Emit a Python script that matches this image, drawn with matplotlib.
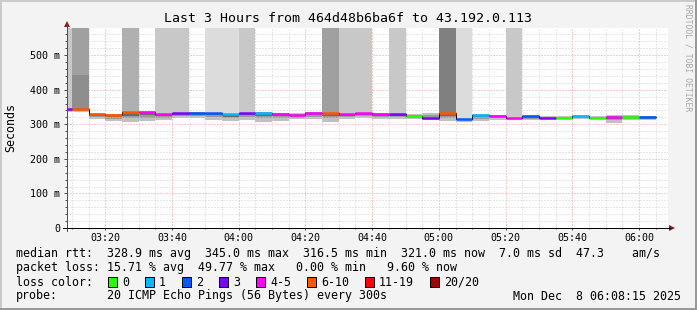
"""SmokePing style latency graph: last 3 hours, 5 minute bins."""

import matplotlib
matplotlib.use("Agg")
import matplotlib.pyplot as plt
from matplotlib.lines import Line2D
from matplotlib.patches import Polygon, Rectangle

W, H, DPI = 697, 310, 72
MONO = "DejaVu Sans Mono"

# 5 minute bins (start time); the first one is clipped by the left edge.
bin_times = [
    "03:05", "03:10", "03:15", "03:20", "03:25", "03:30", "03:35", "03:40",
    "03:45", "03:50", "03:55", "04:00", "04:05", "04:10", "04:15", "04:20",
    "04:25", "04:30", "04:35", "04:40", "04:45", "04:50", "04:55", "05:00",
    "05:05", "05:10", "05:15", "05:20", "05:25", "05:30", "05:35", "05:40",
    "05:45", "05:50", "05:55", "06:00",
]
median_ms = [
    345, 345, 329, 327, 335, 335, 330, 333,
    333, 333, 329, 333, 333, 330, 328, 334,
    334, 330, 334, 331, 331, 325, 319, 334,
    316.5, 326, 324, 319, 323, 319, 319, 323,
    319, 322, 322, 321,
]
smoke_lo_ms = [
    335, 335, 314, 309, 307, 309, 312, 318,
    317, 312, 309, 312, 307, 310, 314, 314,
    307, 314, 317, 314, 314, 316, 312, 309,
    308, 309, 312, 312, 312, 314, 314, 314,
    314, 305, 312, 312,
]
smoke_hi_ms = [
    348, 348, 332, 331, 338, 338, 334, 336,
    336, 336, 333, 336, 336, 334, 332, 337,
    337, 334, 337, 334, 335, 329, 334, 338,
    321, 330, 328, 323, 327, 324, 323, 327,
    324, 327, 326, 325,
]
loss_class = [
    "3", "6-10", "6-10", "6-10", "6-10", "4-5", "4-5", "3",
    "2", "2", "1", "3", "1", "4-5", "4-5", "4-5",
    "6-10", "4-5", "4-5", "4-5", "3", "0", "3", "6-10",
    "2", "1", "4-5", "4-5", "2", "3", "0", "1",
    "0", "4-5", "0", "2",
]
# shade of the smoke from pings beyond the top of the graph
lost_shade = [
    "#c8c8c8", "#a0a0a0", None, None, "#b0b0b0", None, "#c8c8c8", "#c8c8c8",
    None, "#dcdcdc", "#dcdcdc", "#c8c8c8", None, None, None, None,
    "#a0a0a0", "#c8c8c8", "#c8c8c8", None, "#c8c8c8", None, None, "#808080",
    "#dcdcdc", None, None, "#c8c8c8", None, None, None, None,
    None, None, None, None,
]
deep_smoke_top = {"03:10": 442}

loss_labels = ["0", "1", "2", "3", "4-5", "6-10", "11-19", "20/20"]
loss_colors = ["#26ff00", "#00b8ff", "#0059ff", "#7e00ff",
               "#ff00ff", "#ff5500", "#ff0000", "#a10000"]
x_tick_labels = ["03:20", "03:40", "04:00", "04:20", "04:40",
                 "05:00", "05:20", "05:40", "06:00"]
y_ticks = [0, 100, 200, 300, 400, 500]

BIN = 5
X_MIN, X_MAX = 8.5, 188.7
Y_MAX = 580


def minutes(hhmm: str) -> int:
    h, m = map(int, hhmm.split(":"))
    return (h - 3) * 60 + m


def fx(x: float) -> float:
    return x / W


def fy(y: float) -> float:
    return 1 - y / H


color_of = dict(zip(loss_labels, loss_colors))
starts = [minutes(t) for t in bin_times]

fig = plt.figure(figsize=(W / DPI, H / DPI), dpi=DPI, facecolor="#f3f3f3")
ax = fig.add_axes([fx(67), fy(228), (668 - 67) / W, (228 - 27.5) / H])
ax.set_facecolor("white")
ax.set_xlim(X_MIN, X_MAX)
ax.set_ylim(0, Y_MAX)

# Smoke around the median.
for s, med, lo, hi in zip(starts, median_ms, smoke_lo_ms, smoke_hi_ms):
    ax.add_patch(Rectangle((s, lo), BIN, hi - lo, color="#c0c0c0", lw=0, zorder=2))
    ax.add_patch(Rectangle((s, lo + 0.4 * (med - lo)), BIN,
                           0.6 * (med - lo) + 0.5 * (hi - med),
                           color="#999999", lw=0, zorder=2))
    ax.add_patch(Rectangle((s, med - 0.35 * (med - lo)), BIN, 0.35 * (med - lo),
                           color="#6a6a6a", lw=0, zorder=2))

# Lost pings push the smoke off the top of the graph.
for t, s, med, shade in zip(bin_times, starts, median_ms, lost_shade):
    if shade is None:
        continue
    ax.add_patch(Rectangle((s, med), BIN, Y_MAX - med, color=shade, lw=0, zorder=3))
    if t in deep_smoke_top:
        ax.add_patch(Rectangle((s, med), BIN, deep_smoke_top[t] - med,
                               color="#8e8e8e", lw=0, zorder=3))

# Grid on top of the smoke, as rrdtool does.
ax.set_xticks([minutes(t) for t in x_tick_labels])
ax.set_xticklabels(x_tick_labels)
ax.set_xticks([v for v in range(10, 190, 5)], minor=True)
ax.set_yticks(y_ticks)
ax.set_yticklabels(["0" if v == 0 else f"{v} m" for v in y_ticks])
ax.set_yticks(list(range(0, Y_MAX, 20)), minor=True)
ax.set_axisbelow(False)
ax.grid(which="minor", color="#d0d0d0", linestyle=(0, (1, 2)), lw=1, zorder=4)
ax.grid(which="major", color="#f09a9a", linestyle=(0, (1, 2)), lw=1, zorder=4)
for sp in ax.spines.values():
    sp.set_visible(False)
ax.tick_params(which="both", direction="out", color="#505050", width=1,
               labelsize=10, labelfontfamily=MONO, labelcolor="black")
ax.tick_params(axis="x", which="major", length=2, pad=3)
ax.tick_params(axis="x", which="minor", length=1)
ax.tick_params(axis="y", which="major", length=3, pad=4)
ax.tick_params(axis="y", which="minor", length=2)

# Median line, coloured by packet loss.
edges = starts + [starts[-1] + BIN]
ax.step(edges, median_ms + [median_ms[-1]], where="post",
        color="black", lw=1, zorder=5)
for s, med, lc in zip(starts, median_ms, loss_class):
    ax.hlines(med, s, s + BIN, color=color_of[lc], lw=2.5, zorder=6)

# Axes lines and arrows.
fig.add_artist(Line2D([fx(67), fx(67)], [fy(231), fy(24)], color="#505050", lw=1))
fig.add_artist(Line2D([fx(63), fx(671)], [fy(228), fy(228)], color="black", lw=1))
fig.add_artist(Polygon([(fx(64), fy(27)), (fx(70), fy(27)), (fx(67), fy(21))],
                       closed=True, color="#8b1a1a", lw=0))
fig.add_artist(Polygon([(fx(669), fy(225)), (fx(669), fy(231)), (fx(675), fy(228))],
                       closed=True, color="#8b1a1a", lw=0))

# Frame.
fig.add_artist(Rectangle((0, 0), 1, 2 / H, transform=fig.transFigure,
                         color="#999999", lw=0))
fig.add_artist(Rectangle((1 - 2 / W, 0), 2 / W, 1, transform=fig.transFigure,
                         color="#999999", lw=0))
fig.add_artist(Rectangle((0, 1 - 2 / H), 1 - 2 / W, 2 / H, transform=fig.transFigure,
                         color="#cbcbcb", lw=0))
fig.add_artist(Rectangle((0, 2 / H), 2 / W, 1 - 4 / H, transform=fig.transFigure,
                         color="#cbcbcb", lw=0))

# Texts.
fig.text(fx(348), fy(19), "Last 3 Hours from 464d48b6ba6f to 43.192.0.113",
         ha="center", va="center", family=MONO, size=13.2)
fig.text(fx(10.5), fy(127.5), "Seconds", rotation=90, ha="center", va="center",
         family=MONO, size=11.6)
fig.text(fx(688), fy(4), "RRDTOOL / TOBI OETIKER", rotation=270, ha="center",
         va="top", family=MONO, size=8, color="#a8a8a8")

LEG = dict(ha="left", va="center", family=MONO, size=11.6)
fig.text(fx(16), fy(254),
         "median rtt:  328.9 ms avg  345.0 ms max  316.5 ms min  "
         "321.0 ms now  7.0 ms sd  47.3    am/s", **LEG)
fig.text(fx(16), fy(268),
         "packet loss: 15.71 % avg  49.77 % max   0.00 % min   9.60 % now", **LEG)
fig.text(fx(16), fy(282), "loss color:", **LEG)
x = 108
for lab, col in zip(loss_labels, loss_colors):
    fig.add_artist(Rectangle((fx(x), fy(287)), 9 / W, 10 / H,
                             transform=fig.transFigure, facecolor=col,
                             edgecolor="black", lw=1))
    fig.text(fx(x + 14), fy(282), lab, **LEG)
    x += 14 + 7 * len(lab) + 16
fig.text(fx(16), fy(296), "probe:", **LEG)
fig.text(fx(107), fy(296), "20 ICMP Echo Pings (56 Bytes) every 300s", **LEG)
fig.text(fx(681), fy(296), "Mon Dec  8 06:08:15 2025",
         ha="right", va="center", family=MONO, size=11.6)

fig.savefig("out.png", dpi=DPI, facecolor=fig.get_facecolor())
plt.close(fig)
